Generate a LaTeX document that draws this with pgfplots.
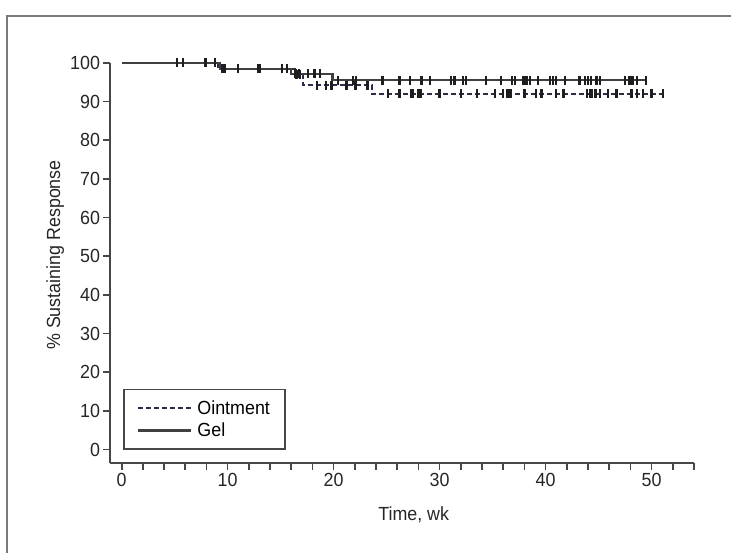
\documentclass[border=0pt]{standalone}
\usepackage{pgfplots}
\pgfplotsset{compat=1.18}
\usepackage{fontspec}
\setmainfont{Liberation Sans}[FakeStretch=0.94]
\definecolor{solidc}{HTML}{404040}
\definecolor{dashc}{HTML}{2A2C48}
\definecolor{markc}{HTML}{1E1E1E}
\definecolor{axc}{HTML}{474747}
\definecolor{framec}{HTML}{7A7A7A}
\newcommand{\lblfont}{\fontsize{19}{21}\selectfont}
\begin{document}
\begin{tikzpicture}
\useasboundingbox (0pt,0pt) rectangle (731pt,552pt);
\draw[framec, line width=2.2pt] (7pt,-5pt) -- (7pt,536pt) -- (740pt,536pt);
\begin{axis}[
  at={(110pt,89pt)}, anchor=south west,
  width=584pt, height=400pt, scale only axis,
  xmin=-1.1, xmax=54, ymin=-3.5, ymax=100,
  axis x line*=bottom, axis y line*=left,
  axis line style={-, axc, line width=1.9pt},
  xtick={0,10,...,50}, minor xtick={0,2,...,54},
  ytick={0,10,...,100},
  tick align=outside, major tick length=6.5pt, minor tick length=6.5pt,
  every tick/.style={axc, line width=1.7pt},
  tick label style={font=\lblfont, text=black!85},
  /pgf/number format/assume math mode=true,
  xlabel={Time, wk}, ylabel={\% Sustaining Response},
  label style={font=\lblfont, text=black!85},
  xlabel style={at={(axis description cs:0.52,-0.13)}, anchor=center},
  ylabel style={at={(axis description cs:-0.094,0.52)}, anchor=center},
  legend style={at={(axis description cs:0.022,0.0325)}, anchor=south west,
    draw=axc, line width=1.8pt, inner xsep=13pt, inner ysep=9pt,
    font=\lblfont, nodes={inner sep=2pt}, row sep=3pt, column sep=3.5pt,
    cells={anchor=west}},
  legend image code/.code={\draw[#1] (0pt,0pt) -- (53pt,0pt);},
]
\addplot[dashc, line width=2pt, dash pattern=on 5pt off 3pt, const plot]
  coordinates {(0,100)(9.1,98.5)(16.4,97.0)(17.1,94.3)(23.6,92.0)(51.2,92.0)};
\addlegendentry{Ointment}
\addplot[solidc, line width=2.2pt, const plot]
  coordinates {(0,100)(9.3,98.5)(16.0,97.2)(19.9,95.5)(49.5,95.5)};
\addlegendentry{Gel}
% censored - ointment
\addplot[only marks, mark=|, mark size=4.5pt, mark options={markc, line width=2.3pt}, forget plot]
  coordinates {(5.8,100)(8.8,100)
  (9.5,98.5)(13.0,98.5)(15.6,98.5)
  (16.5,97.0)(16.8,97.0)
  (18.4,94.3)(19.3,94.3)(19.8,94.3)(21.2,94.3)(22.0,94.3)(22.1,94.3)(23.2,94.3)
  (25.1,92)(26.2,92)(27.3,92)(27.5,92)(28.0,92)(28.2,92)(30.0,92)(32.0,92)(33.5,92)
  (35.2,92)(36.0,92)(36.4,92)(36.7,92)(38.0,92)(39.1,92)(39.6,92)(41.0,92)(41.7,92)
  (43.9,92)(44.2,92)(44.4,92)(44.7,92)(45.1,92)(45.9,92)(46.7,92)(48.1,92)(48.6,92)
  (49.2,92)(50.0,92)(51.1,92)};
% censored - gel
\addplot[only marks, mark=|, mark size=4.5pt, mark options={markc, line width=2.3pt}, forget plot]
  coordinates {(5.2,100)(7.9,100)
  (9.7,98.5)(11.0,98.5)(12.9,98.5)(15.1,98.5)
  (16.4,97.2)(16.7,97.2)(17.6,97.2)(18.2,97.2)(18.7,97.2)
  (20.4,95.5)(21.8,95.5)(22.1,95.5)(24.6,95.5)(26.2,95.5)(27.2,95.5)(28.3,95.5)(29.1,95.5)
  (31.1,95.5)(31.4,95.5)(32.2,95.5)(32.5,95.5)(34.4,95.5)(35.8,95.5)(36.8,95.5)(37.1,95.5)
  (37.9,95.5)(38.2,95.5)(38.5,95.5)(39.3,95.5)(40.4,95.5)(40.7,95.5)(41.0,95.5)(41.8,95.5)
  (43.2,95.5)(43.7,95.5)(44.0,95.5)(44.3,95.5)(44.8,95.5)(45.1,95.5)(47.5,95.5)(47.9,95.5)
  (48.2,95.5)(48.6,95.5)(49.5,95.5)};
\end{axis}
\end{tikzpicture}
\end{document}
